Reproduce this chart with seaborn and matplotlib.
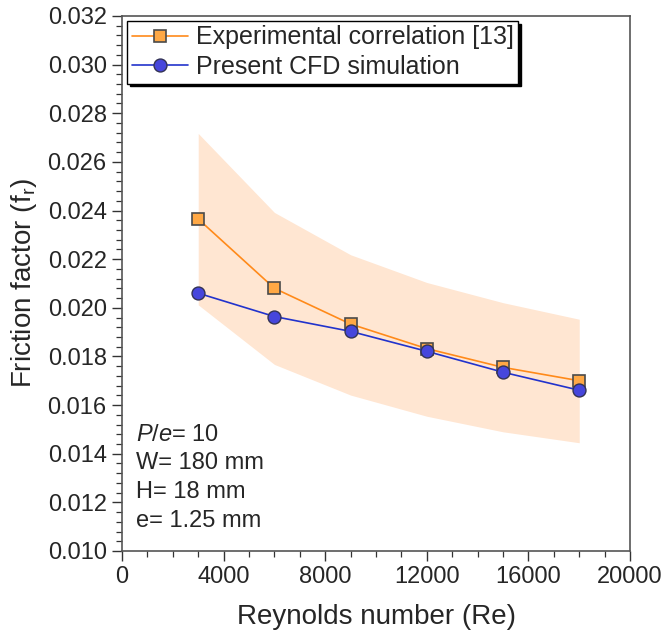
import matplotlib
matplotlib.use("Agg")
import matplotlib.pyplot as plt
import seaborn as sns
import pandas as pd
from matplotlib.ticker import MultipleLocator, FormatStrFormatter

re_vals = [3000, 6000, 9000, 12000, 15000, 18000]
exp_corr = [0.02365, 0.02080, 0.01933, 0.01832, 0.01755, 0.01700]
cfd_sim = [0.02060, 0.01964, 0.01903, 0.01821, 0.01735, 0.01661]
band_upper = [0.02717, 0.02392, 0.02218, 0.02104, 0.02021, 0.01953]
band_lower = [0.02012, 0.01767, 0.01641, 0.01554, 0.01490, 0.01445]

labels = ["Experimental correlation [13]", "Present CFD simulation"]
annot = ["$\\it{P/e}$= 10", "W= 180 mm", "H= 18 mm", "e= 1.25 mm"]

sns.set_style("ticks")
plt.rcParams["font.family"] = ["Liberation Sans", "DejaVu Sans"]
plt.rcParams["mathtext.fontset"] = "custom"
plt.rcParams["mathtext.rm"] = "Liberation Sans"
plt.rcParams["mathtext.it"] = "Liberation Sans:italic"

df = pd.DataFrame({"Re": re_vals * 2,
                   "f": exp_corr + cfd_sim,
                   "series": [labels[0]] * 6 + [labels[1]] * 6})

fig = plt.figure(figsize=(6.66, 6.38), dpi=100)
ax = fig.add_axes([0.1832, 0.1364, 0.7628, 0.8386])

ax.fill_between(re_vals, band_lower, band_upper, color="#ffe6d2", lw=0, zorder=1)

sns.lineplot(data=df[df.series == labels[0]], x="Re", y="f", ax=ax,
             color="#ff8a1a", lw=1.2, marker="s", markersize=8,
             markerfacecolor="#ffa845", markeredgecolor="#4a4a4a",
             markeredgewidth=1.2, label=labels[0], zorder=3)
sns.lineplot(data=df[df.series == labels[1]], x="Re", y="f", ax=ax,
             color="#2233cc", lw=1.2, marker="o", markersize=9.3,
             markerfacecolor="#4646dc", markeredgecolor="#333355",
             markeredgewidth=1.0, label=labels[1], zorder=4)

ax.set_xlim(0, 20000)
ax.set_ylim(0.010, 0.032)
ax.xaxis.set_major_locator(MultipleLocator(4000))
ax.xaxis.set_minor_locator(MultipleLocator(1000))
ax.yaxis.set_major_locator(MultipleLocator(0.002))
ax.yaxis.set_minor_locator(MultipleLocator(0.0004))
ax.yaxis.set_major_formatter(FormatStrFormatter("%.3f"))

ax.tick_params(axis="both", which="major", length=7, width=1.0, labelsize=17,
               direction="out", color="#333333", pad=4)
ax.tick_params(axis="both", which="minor", length=4, width=0.9,
               direction="out", color="#333333")
for s in ax.spines.values():
    s.set_color("#555555")
    s.set_linewidth(1.2)

ax.set_xlabel("Reynolds number (Re)", fontsize=20, labelpad=11)
ax.set_ylabel("Friction factor (f$_\\mathregular{r}$)", fontsize=20, labelpad=6.5)

leg = ax.legend(loc="upper left", fontsize=18, frameon=True, fancybox=False,
                shadow={"color": "black", "alpha": 1.0}, borderpad=0.18,
                handlelength=2.27, handletextpad=0.31, labelspacing=0.23,
                borderaxespad=0.2, edgecolor="black")
leg.get_frame().set_linewidth(1.0)

ax.text(0.028, 0.238, "\n".join(annot), transform=ax.transAxes, fontsize=17,
        va="top", ha="left", linespacing=1.39)

fig.savefig("out.png", dpi=100)
